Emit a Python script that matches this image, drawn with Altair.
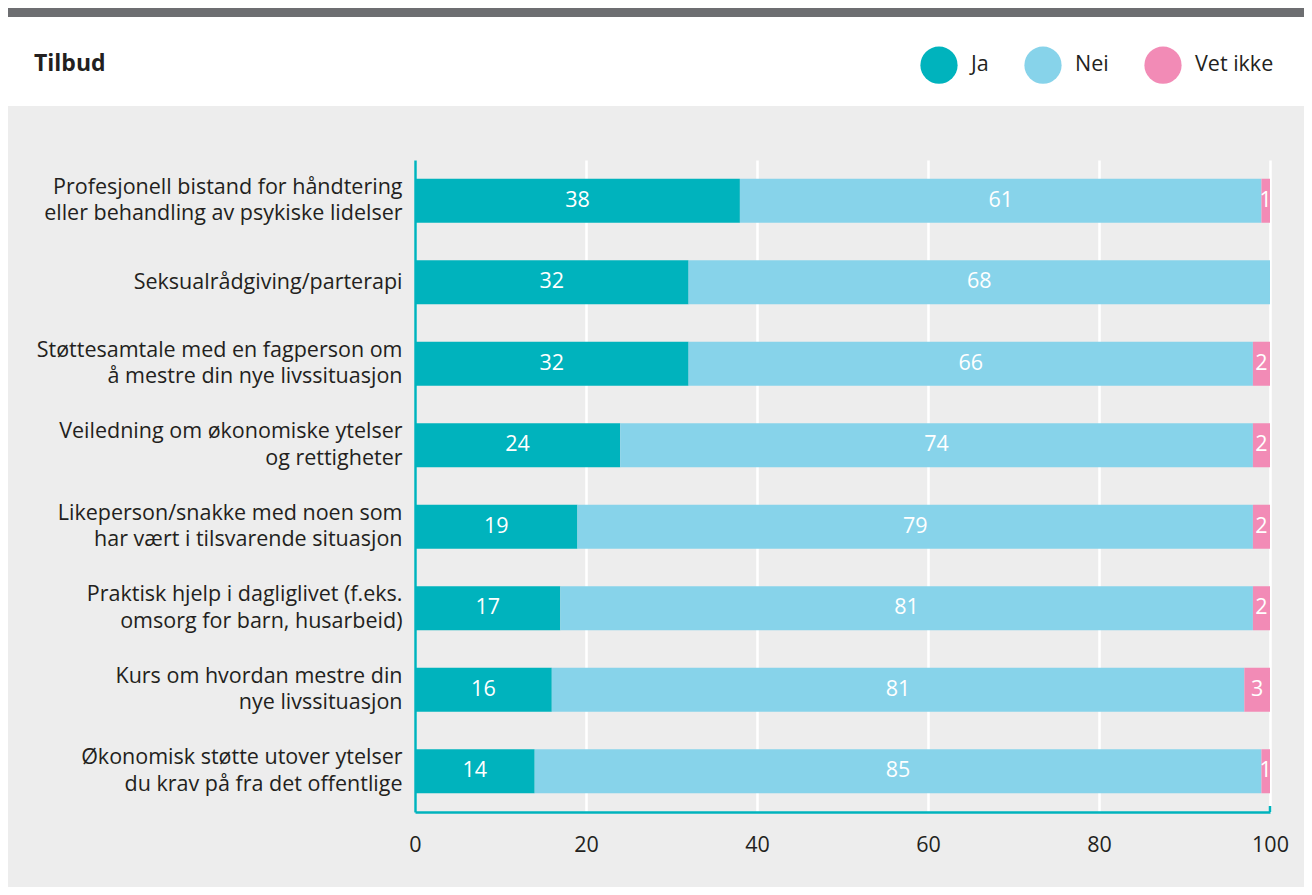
import altair as alt
import pandas as pd

categories = [
    "Profesjonell bistand for håndtering|eller behandling av psykiske lidelser",
    "Seksualrådgiving/parterapi",
    "Støttesamtale med en fagperson om|å mestre din nye livssituasjon",
    "Veiledning om økonomiske ytelser|og rettigheter",
    "Likeperson/snakke med noen som|har vært i tilsvarende situasjon",
    "Praktisk hjelp i dagliglivet (f.eks.|omsorg for barn, husarbeid)",
    "Kurs om hvordan mestre din|nye livssituasjon",
    "Økonomisk støtte utover ytelser|du krav på fra det offentlige",
]
ja = [38, 32, 32, 24, 19, 17, 16, 14]
nei = [61, 68, 66, 74, 79, 81, 81, 85]
vet_ikke = [1, 0, 2, 2, 2, 2, 3, 1]
series = ["Ja", "Nei", "Vet ikke"]
colors = ["#00b3bd", "#87d3ea", "#f28bb6"]
x_ticks = [0, 20, 40, 60, 80, 100]

rows = []
for i, c in enumerate(categories):
    for k, (s, vals) in enumerate(zip(series, [ja, nei, vet_ikke])):
        rows.append({"kategori": c, "svar": s, "verdi": vals[i], "rekkefolge": k})
df = pd.DataFrame(rows)
one = pd.DataFrame({"n": [0]})

FONT = "Open Sans"
TXT = "#231f20"
FS = 21.5
W, H = 855, 652
PL, PT, PR, PB = 407, 152, 34, 75

y_enc = alt.Y(
    "kategori:N",
    sort=categories,
    title=None,
    scale=alt.Scale(paddingInner=0.46, paddingOuter=0.23),
    axis=alt.Axis(
        labelExpr="split(datum.label, '|')",
        labelFont=FONT,
        labelFontSize=FS,
        labelColor=TXT,
        labelLineHeight=26.5,
        labelPadding=13,
        labelLimit=420,
        labelOffset={"condition": {"test": "indexof(datum.value, '|') >= 0", "value": -13}, "value": 1},
        ticks=False,
        domainColor="#00b3bd",
        domainWidth=2.5,
        grid=False,
    ),
)

bars = alt.Chart(df).mark_bar().encode(
    x=alt.X(
        "verdi:Q",
        stack="zero",
        scale=alt.Scale(domain=[0, 100], nice=False),
        title=None,
        axis=alt.Axis(
            values=x_ticks,
            labelFont=FONT,
            labelFontSize=FS,
            labelColor=TXT,
            labelPadding=22,
            ticks=False,
            domainColor="#00b3bd",
            domainWidth=2.5,
            grid=True,
            gridColor="#ffffff",
            gridWidth=2.5,
            labelFlush=False,
        ),
    ),
    y=y_enc,
    color=alt.Color(
        "svar:N",
        scale=alt.Scale(domain=series, range=colors),
        legend=alt.Legend(
            title=None,
            orient="none",
            legendX=505,
            legendY=-114,
            direction="horizontal",
            symbolType="circle",
            symbolSize=1385,
            symbolStrokeWidth=0,
            symbolOpacity=1,
            labelFont=FONT,
            labelFontSize=FS,
            labelColor=TXT,
            labelOffset=13,
            columnPadding=35,
        ),
    ),
    order=alt.Order("rekkefolge:Q"),
)

labels = alt.Chart(df).transform_window(
    cum="sum(verdi)", groupby=["kategori"], sort=[alt.SortField("rekkefolge")]
).transform_calculate(
    mid="datum.cum - datum.verdi / 2"
).transform_filter(
    "datum.verdi > 0"
).mark_text(
    color="white", font=FONT, fontSize=FS, baseline="middle", align="center"
).encode(
    x=alt.X("mid:Q"),
    y=alt.Y("kategori:N", sort=categories),
    text=alt.Text("verdi:Q"),
)

end_tick = alt.Chart(one).mark_rule(color="#00b3bd", strokeWidth=2.5).encode(
    x=alt.datum(100), y=alt.value(H - 6), y2=alt.value(H)
)

header = alt.Chart(one).mark_rect(color="white").encode(
    x=alt.value(-PL), x2=alt.value(W + PR), y=alt.value(-PT), y2=alt.value(-54)
)
topbar = alt.Chart(one).mark_rect(color="#6d6e71").encode(
    x=alt.value(-PL), x2=alt.value(W + PR), y=alt.value(-PT), y2=alt.value(-143)
)
title = alt.Chart(one).mark_text(
    text="Tilbud", font=FONT, fontSize=23, fontWeight="bold", color=TXT,
    align="left", baseline="middle"
).encode(x=alt.value(-381), y=alt.value(-96))

chart = alt.layer(header, topbar, title, bars, labels, end_tick).properties(
    width=W,
    height=H,
    background="#ededed",
    padding={"left": PL, "top": PT, "right": PR, "bottom": PB},
    autosize=alt.AutoSizeParams(type="none"),
).configure_view(strokeWidth=0)

chart.save("out.html", embed_options={"renderer": "svg", "actions": False})
